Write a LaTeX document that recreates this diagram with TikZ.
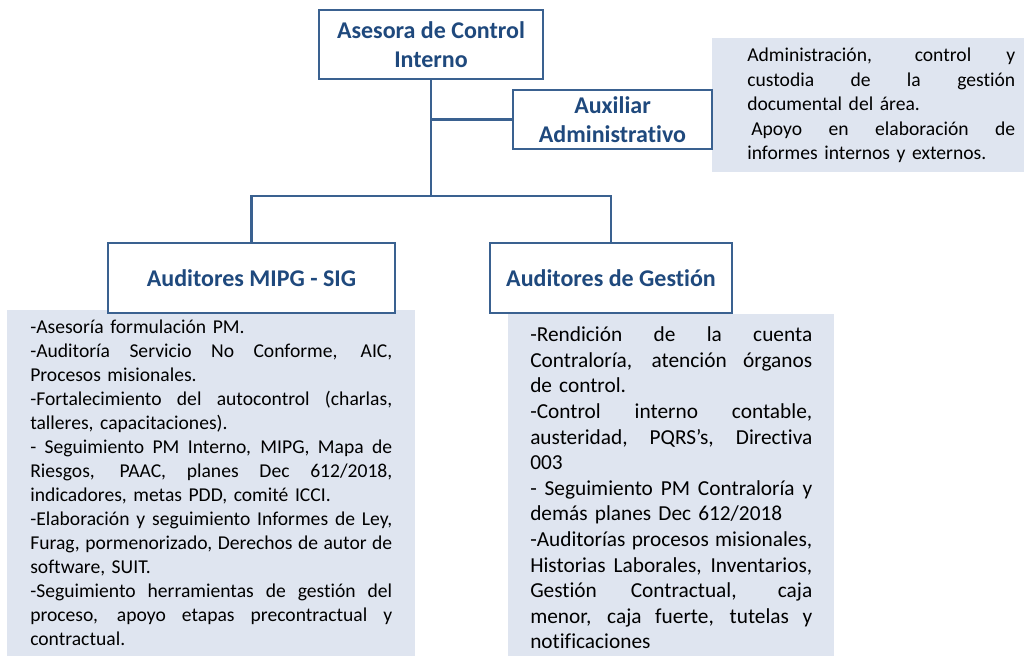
\documentclass[tikz,border=0pt]{standalone}
\usepackage{fontspec}
\setmainfont{Carlito}[Ligatures={NoCommon,NoContextual,NoRequired}, Contextuals=NoAlternate]
\usetikzlibrary{positioning}
\definecolor{chartline}{HTML}{3A6190}
\definecolor{titleblue}{HTML}{1F497D}
\definecolor{notefill}{HTML}{DFE5F0}
\newcommand{\jline}[1]{\hbox to\hsize{\spaceskip=\fontdimen2\font plus 1fil\relax #1}}
\newcommand{\pline}[1]{\hbox{#1}}
\hbadness=10000

\begin{document}
\begin{tikzpicture}[x=0.75pt, y=-0.75pt,
    role/.style={draw=chartline, line width=2pt, fill=white, text=titleblue, font=\fontsize{18}{21.5}\selectfont\bfseries, align=center, inner sep=0pt},
    note/.style={fill=notefill, anchor=north west, inner sep=0pt},
    duty/.style={anchor=base west, inner sep=0pt, text=black},
    link/.style={draw=chartline, line width=1.8pt}
  ]
  \useasboundingbox (0,0) rectangle (1024,656);
  % Background notes
  \node[note, minimum width=234pt, minimum height=100.5pt] (auxnote) at (712,38) {};
  \node[note, minimum width=306pt, minimum height=259.5pt] (mipgnote) at (7,310) {};
  \node[note, minimum width=244.5pt, minimum height=256.5pt] (gestnote) at (508,314) {};
  % Roles
  \node[role, minimum width=168pt, minimum height=51.75pt] (head) at (431,44.5) {Asesora de Control\\Interno};
  \node[role, minimum width=149.25pt, minimum height=44.25pt] (aux) at (612.5,119.5) {Auxiliar\\Administrativo};
  \node[role, minimum width=215.25pt, minimum height=52.5pt] (mipg) at (251.5,278) {Auditores MIPG - SIG};
  \node[role, minimum width=181.5pt, minimum height=52.5pt] (gest) at (611,278) {Auditores de Gestión};
  % Connectors
  \coordinate (split) at (431,196);
  \draw[link] (head.south) -- (split);
  \draw[link] (head.south |- aux.west) -- (aux.west);
  \draw[link] (mipg.north) |- (split) -| (gest.north);
  % Duties
  \node[duty, text width=201pt, font=\fontsize{14.7}{18.4}\selectfont] (auxtext) at (747,61.7) {%
    \jline{Administración, control y}
    \jline{custodia de la gestión}
    \pline{documental del área.}
    \jline{\kern3pt Apoyo en elaboración de}
    \pline{informes internos y externos.}};
  \node[duty, text width=271.5pt, font=\fontsize{14.7}{18}\selectfont] (mipgtext) at (30,333) {%
    \pline{-Asesoría formulación PM.}
    \jline{-Auditoría Servicio No Conforme, AIC,}
    \pline{Procesos misionales.}
    \jline{-Fortalecimiento del autocontrol (charlas,}
    \pline{talleres, capacitaciones).}
    \jline{- Seguimiento PM Interno, MIPG, Mapa de}
    \jline{Riesgos, PAAC, planes Dec 612/2018,}
    \pline{indicadores, metas PDD, comité ICCI.}
    \jline{-Elaboración y seguimiento Informes de Ley,}
    \jline{Furag, pormenorizado, Derechos de autor de}
    \pline{software, SUIT.}
    \jline{-Seguimiento herramientas de gestión del}
    \jline{proceso, apoyo etapas precontractual y}
    \pline{contractual.}};
  \node[duty, text width=211.5pt, font=\fontsize{16}{19.2}\selectfont] (gesttext) at (530,341.7) {%
    \jline{-Rendición de la cuenta}
    \jline{Contraloría, atención órganos}
    \pline{de control.}
    \jline{-Control interno contable,}
    \jline{austeridad, PQRS’s, Directiva}
    \pline{003}
    \jline{- Seguimiento PM Contraloría y}
    \pline{demás planes Dec 612/2018}
    \jline{-Auditorías procesos misionales,}
    \jline{Historias Laborales, Inventarios,}
    \jline{Gestión Contractual, caja}
    \jline{menor, caja fuerte, tutelas y}
    \pline{notificaciones}};
\end{tikzpicture}
\end{document}
